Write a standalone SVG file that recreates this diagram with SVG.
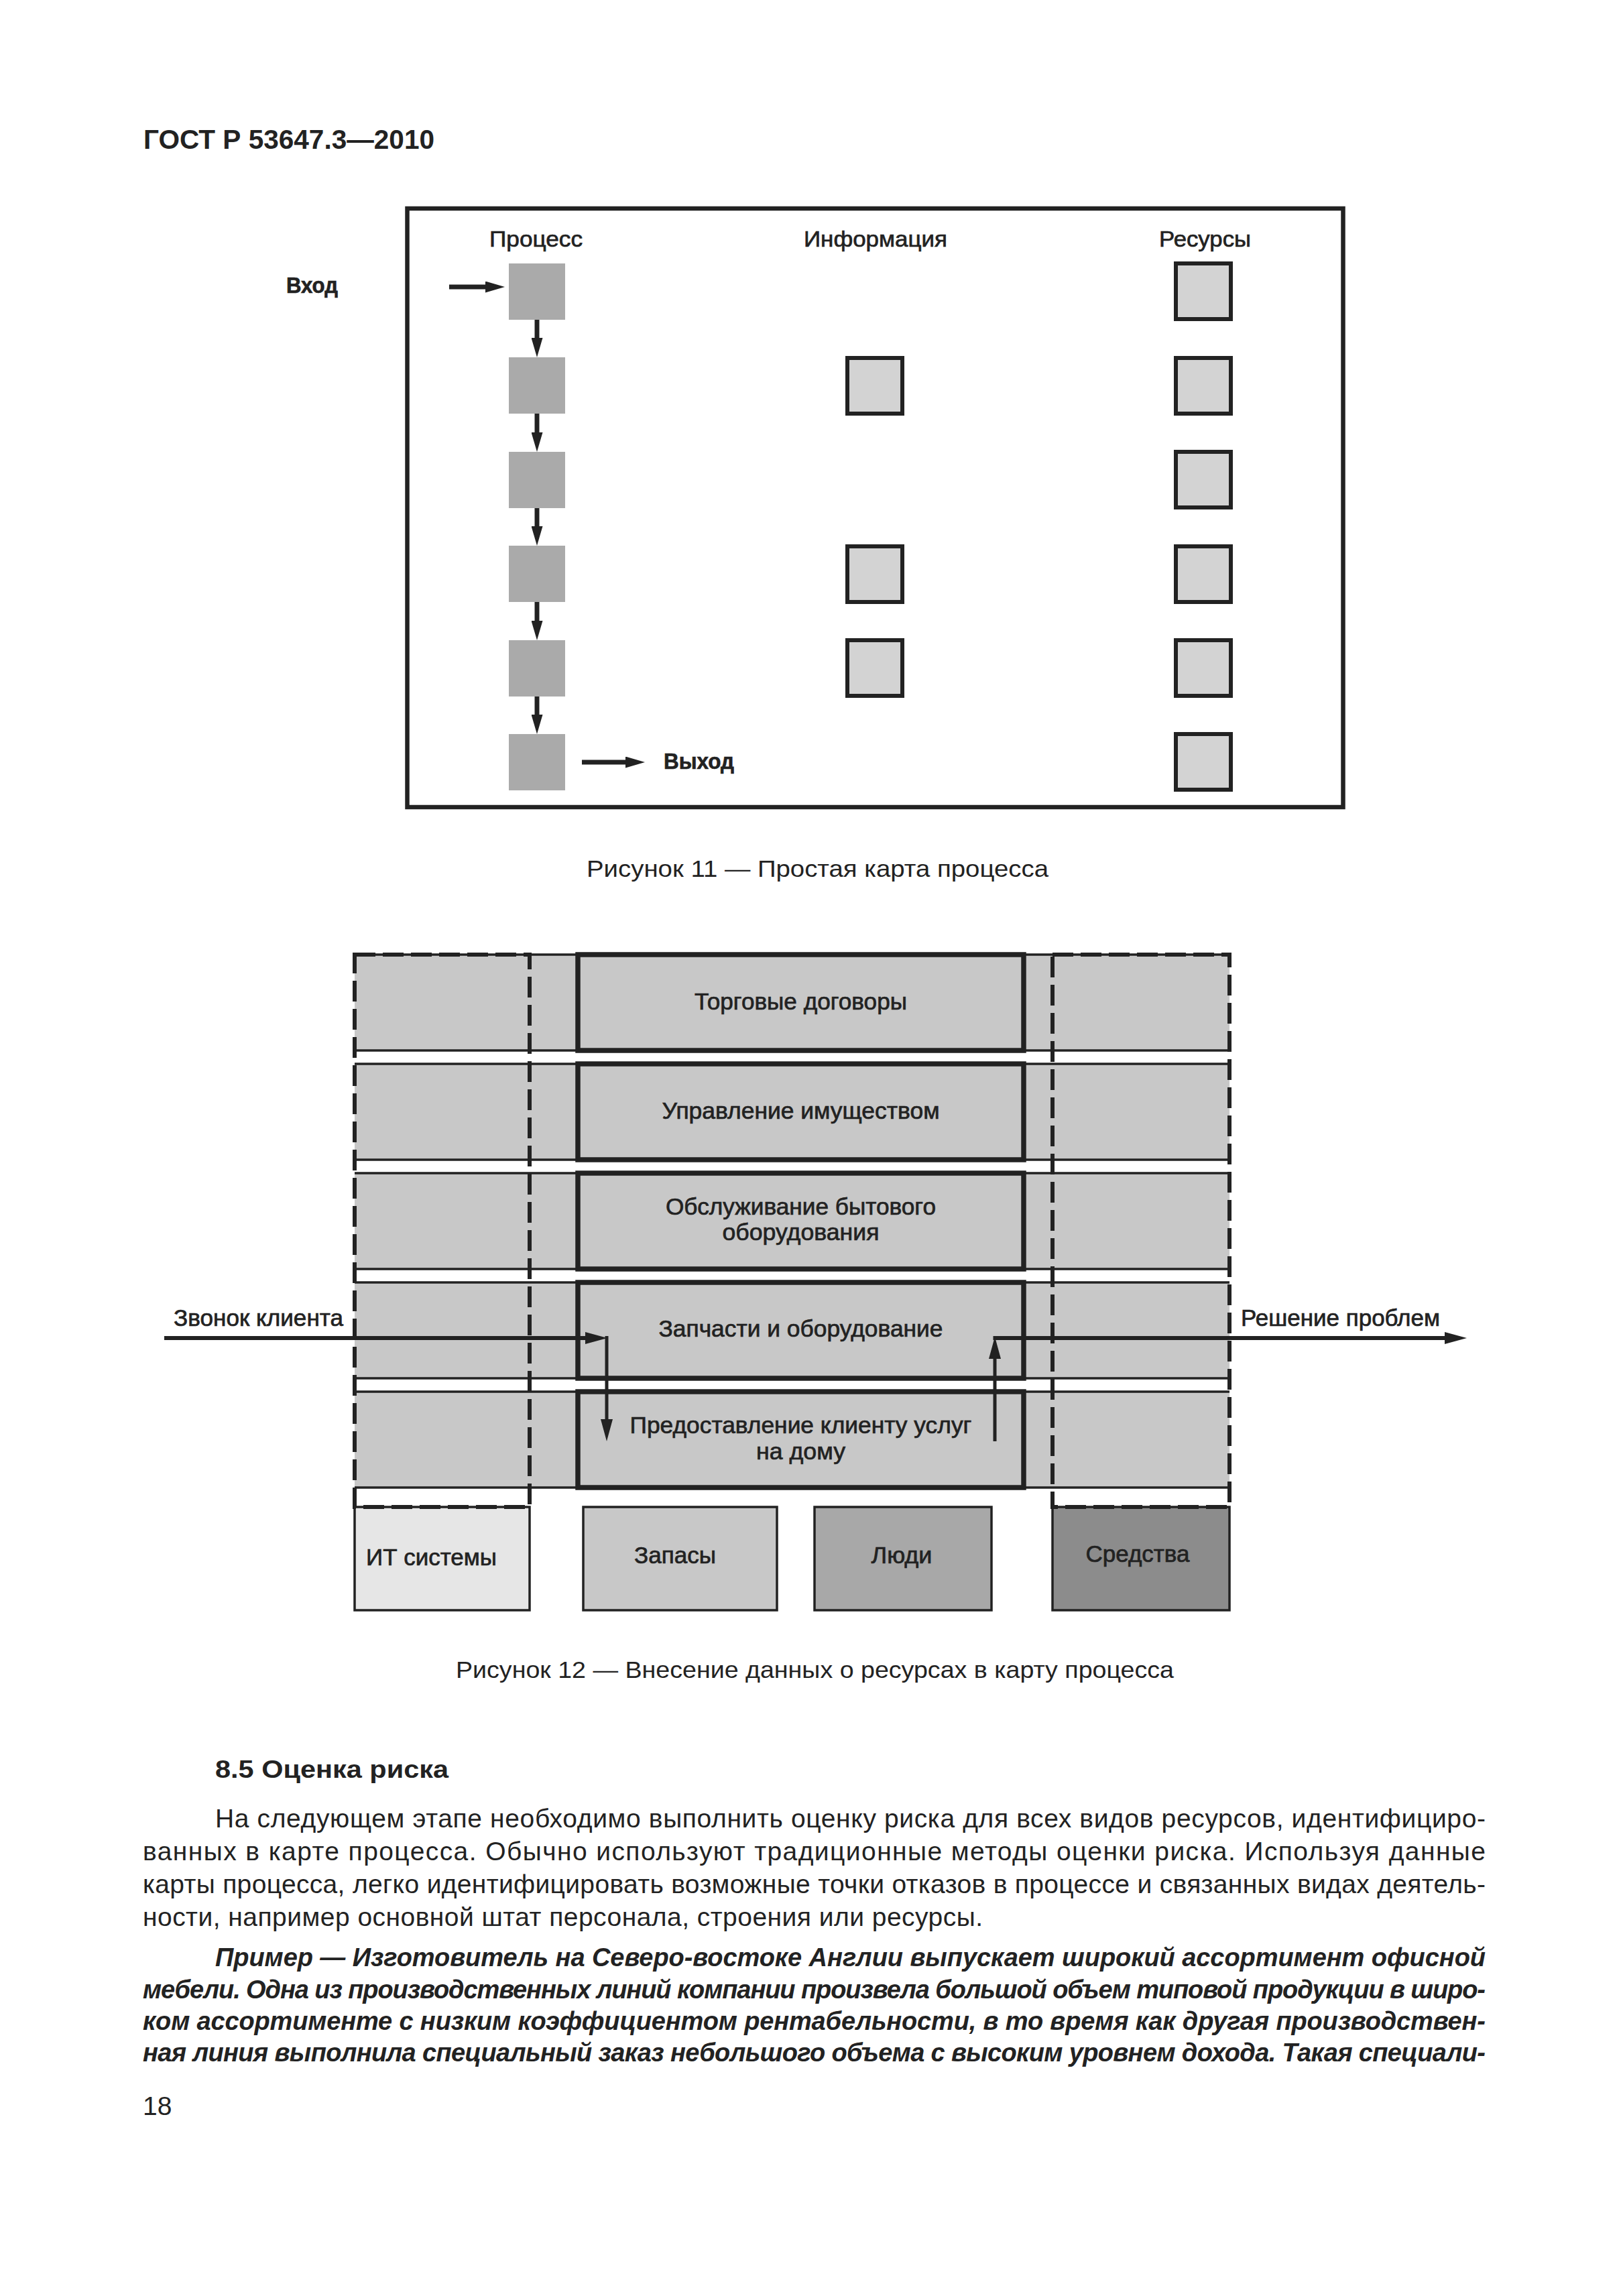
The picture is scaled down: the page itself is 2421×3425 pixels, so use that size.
<svg xmlns="http://www.w3.org/2000/svg" width="2421" height="3425" viewBox="0 0 2421 3425">
<style>
text{font-family:"Liberation Sans",Arial,sans-serif;fill:#222}
.b{font-weight:bold}
.lbl{font-size:35px;stroke:#222;stroke-width:0.7}
.f11{font-size:34px;stroke:#222;stroke-width:0.7}
.cap{font-size:35px}
.p{font-size:39px}
.pi{font-size:38px;font-weight:bold;font-style:italic}
.frame{fill:none;stroke:#222;stroke-width:6.5}
.pbox{fill:#aaaaaa}
.rbox{fill:#d3d3d3;stroke:#222;stroke-width:6}
.row{fill:#c8c8c8}
.thin{stroke:#222;stroke-width:3.5;fill:none}
.res{stroke:#222;stroke-width:3.5}
.thick{fill:none;stroke:#222;stroke-width:7.5}
.dash{fill:none;stroke:#222;stroke-width:6;stroke-dasharray:31 11}
.ln{stroke:#222;fill:none}
</style>
<defs>
<marker id="ah11" markerUnits="userSpaceOnUse" markerWidth="29" markerHeight="17" refX="0" refY="8.5" orient="auto"><path d="M0,0 L29,8.5 L0,17 Z" fill="#222"/></marker>
<marker id="ah12" markerUnits="userSpaceOnUse" markerWidth="33" markerHeight="18" refX="0" refY="9" orient="auto"><path d="M0,0 L33,9 L0,18 Z" fill="#222"/></marker>
</defs>
<rect width="2421" height="3425" fill="#fff"/>
<text class="b" x="214" y="222" font-size="40" textLength="434" lengthAdjust="spacingAndGlyphs">ГОСТ Р 53647.3—2010</text>

<g id="figure11">
<rect id="frame11" class="frame" x="607.5" y="311" width="1396" height="893"/>
<text id="h-process" class="f11" x="730" y="368" textLength="139" lengthAdjust="spacingAndGlyphs">Процесс</text>
<text id="h-info" class="f11" x="1199" y="368" textLength="214" lengthAdjust="spacingAndGlyphs">Информация</text>
<text id="h-res" class="f11" x="1729" y="368" textLength="137" lengthAdjust="spacingAndGlyphs">Ресурсы</text>
<text id="l-in" class="f11 b" x="427" y="437" textLength="77" lengthAdjust="spacingAndGlyphs">Вход</text>
<text id="l-out" class="f11 b" x="990" y="1147" textLength="105" lengthAdjust="spacingAndGlyphs">Выход</text>
<g id="p1"><rect class="pbox" x="759" y="393" width="84" height="84"/></g>
<g id="p2"><rect class="pbox" x="759" y="533" width="84" height="84"/></g>
<g id="p3"><rect class="pbox" x="759" y="674" width="84" height="84"/></g>
<g id="p4"><rect class="pbox" x="759" y="814" width="84" height="84"/></g>
<g id="p5"><rect class="pbox" x="759" y="955" width="84" height="84"/></g>
<g id="p6"><rect class="pbox" x="759" y="1095" width="84" height="84"/></g>
<g id="i2"><rect class="rbox" x="1264" y="534" width="82" height="83"/></g>
<g id="i4"><rect class="rbox" x="1264" y="815" width="82" height="83"/></g>
<g id="i5"><rect class="rbox" x="1264" y="955" width="82" height="83"/></g>
<g id="r1"><rect class="rbox" x="1754" y="393" width="82" height="83"/></g>
<g id="r2"><rect class="rbox" x="1754" y="534" width="82" height="83"/></g>
<g id="r3"><rect class="rbox" x="1754" y="674" width="82" height="83"/></g>
<g id="r4"><rect class="rbox" x="1754" y="815" width="82" height="83"/></g>
<g id="r5"><rect class="rbox" x="1754" y="955" width="82" height="83"/></g>
<g id="r6"><rect class="rbox" x="1754" y="1095" width="82" height="83"/></g>
<g id="conn11" class="ln" stroke-width="7">
<line x1="670" y1="428" x2="724" y2="428" marker-end="url(#ah11)"/>
<line x1="801" y1="477" x2="801" y2="504" marker-end="url(#ah11)"/>
<line x1="801" y1="617" x2="801" y2="645" marker-end="url(#ah11)"/>
<line x1="801" y1="758" x2="801" y2="785" marker-end="url(#ah11)"/>
<line x1="801" y1="898" x2="801" y2="926" marker-end="url(#ah11)"/>
<line x1="801" y1="1039" x2="801" y2="1066" marker-end="url(#ah11)"/>
<line x1="868" y1="1137" x2="933" y2="1137" marker-end="url(#ah11)"/>
</g>
</g>
<text class="cap" x="875" y="1308" textLength="689" lengthAdjust="spacingAndGlyphs">Рисунок 11 — Простая карта процесса</text>

<g id="figure12">
<g id="bottomboxes">
<g id="it"><rect class="res" x="529" y="2248" width="261" height="154" fill="#e6e6e6"/><text class="lbl" x="546" y="2335" textLength="195" lengthAdjust="spacingAndGlyphs">ИТ системы</text></g>
<g id="stock"><rect class="res" x="870" y="2248" width="289" height="154" fill="#c8c8c8"/><text class="lbl" x="1007" y="2332" text-anchor="middle" textLength="122" lengthAdjust="spacingAndGlyphs">Запасы</text></g>
<g id="people"><rect class="res" x="1215" y="2248" width="264" height="154" fill="#a8a8a8"/><text class="lbl" x="1345" y="2332" text-anchor="middle" textLength="91" lengthAdjust="spacingAndGlyphs">Люди</text></g>
<g id="means"><rect class="res" x="1570" y="2248" width="264" height="154" fill="#8c8c8c"/><text class="lbl" x="1697" y="2330" text-anchor="middle" textLength="155" lengthAdjust="spacingAndGlyphs">Средства</text></g>
</g>
<g id="row1"><rect class="row" x="529" y="1424" width="1305" height="143"/><line class="thin" x1="529" y1="1424" x2="1834" y2="1424"/><line class="thin" x1="529" y1="1567" x2="1834" y2="1567"/><rect class="thick" x="862" y="1424" width="665" height="143"/><text class="lbl" x="1194.5" y="1506" text-anchor="middle" textLength="317" lengthAdjust="spacingAndGlyphs">Торговые договоры</text></g>
<g id="row2"><rect class="row" x="529" y="1587" width="1305" height="143"/><line class="thin" x1="529" y1="1587" x2="1834" y2="1587"/><line class="thin" x1="529" y1="1730" x2="1834" y2="1730"/><rect class="thick" x="862" y="1587" width="665" height="143"/><text class="lbl" x="1194.5" y="1669" text-anchor="middle" textLength="414" lengthAdjust="spacingAndGlyphs">Управление имуществом</text></g>
<g id="row3"><rect class="row" x="529" y="1750" width="1305" height="143"/><line class="thin" x1="529" y1="1750" x2="1834" y2="1750"/><line class="thin" x1="529" y1="1893" x2="1834" y2="1893"/><rect class="thick" x="862" y="1750" width="665" height="143"/><text class="lbl" x="1194.5" y="1812" text-anchor="middle" textLength="403" lengthAdjust="spacingAndGlyphs">Обслуживание бытового</text><text class="lbl" x="1194.5" y="1850" text-anchor="middle" textLength="234" lengthAdjust="spacingAndGlyphs">оборудования</text></g>
<g id="row4"><rect class="row" x="529" y="1913" width="1305" height="143"/><line class="thin" x1="529" y1="1913" x2="1834" y2="1913"/><line class="thin" x1="529" y1="2056" x2="1834" y2="2056"/><rect class="thick" x="862" y="1913" width="665" height="143"/><text class="lbl" x="1194.5" y="1994" text-anchor="middle" textLength="424" lengthAdjust="spacingAndGlyphs">Запчасти и оборудование</text></g>
<g id="row5"><rect class="row" x="529" y="2076" width="1305" height="143"/><line class="thin" x1="529" y1="2076" x2="1834" y2="2076"/><line class="thin" x1="529" y1="2219" x2="1834" y2="2219"/><rect class="thick" x="862" y="2076" width="665" height="143"/><text class="lbl" x="1194.5" y="2138" text-anchor="middle" textLength="510" lengthAdjust="spacingAndGlyphs">Предоставление клиенту услуг</text><text class="lbl" x="1194.5" y="2177" text-anchor="middle" textLength="133" lengthAdjust="spacingAndGlyphs">на дому</text></g>
<g id="col-it"><rect class="dash" x="529" y="1424" width="261" height="824"/></g>
<g id="col-means"><rect class="dash" x="1570" y="1424" width="264" height="824"/></g>
<text id="l-call" class="lbl" x="259" y="1978" textLength="253" lengthAdjust="spacingAndGlyphs">Звонок клиента</text>
<text id="l-sol" class="lbl" x="1851" y="1978" textLength="297" lengthAdjust="spacingAndGlyphs">Решение проблем</text>
<g id="conn12" class="ln">
<line x1="245" y1="1996" x2="873" y2="1996" stroke-width="6" marker-end="url(#ah12)"/>
<line x1="905" y1="1993" x2="905" y2="2117" stroke-width="5" marker-end="url(#ah12)"/>
<line x1="1484" y1="2150" x2="1484" y2="2027" stroke-width="5" marker-end="url(#ah12)"/>
<line x1="1481.5" y1="1996" x2="2155" y2="1996" stroke-width="6" marker-end="url(#ah12)"/>
</g>
</g>
<text class="cap" x="680" y="2503" textLength="1071" lengthAdjust="spacingAndGlyphs">Рисунок 12 — Внесение данных о ресурсах в карту процесса</text>

<g id="textblock">
<text class="b" x="321" y="2652" font-size="37" textLength="348" lengthAdjust="spacingAndGlyphs">8.5 Оценка риска</text>
<text class="p" x="321" y="2726" textLength="1895" lengthAdjust="spacing">На следующем этапе необходимо выполнить оценку риска для всех видов ресурсов, идентифициро-</text>
<text class="p" x="213" y="2775" textLength="2003" lengthAdjust="spacing">ванных в карте процесса. Обычно используют традиционные методы оценки риска. Используя данные</text>
<text class="p" x="213" y="2824" textLength="2003" lengthAdjust="spacing">карты процесса, легко идентифицировать возможные точки отказов в процессе и связанных видах деятель-</text>
<text class="p" x="213" y="2873" textLength="1253" lengthAdjust="spacing">ности, например основной штат персонала, строения или ресурсы.</text>
<text class="pi" x="321" y="2933" textLength="1895" lengthAdjust="spacing">Пример — Изготовитель на Северо-востоке Англии выпускает широкий ассортимент офисной</text>
<text class="pi" x="213" y="2981" textLength="2003" lengthAdjust="spacing">мебели. Одна из производственных линий компании произвела большой объем типовой продукции в широ-</text>
<text class="pi" x="213" y="3028" textLength="2003" lengthAdjust="spacing">ком ассортименте с низким коэффициентом рентабельности, в то время как другая производствен-</text>
<text class="pi" x="213" y="3075" textLength="2003" lengthAdjust="spacing">ная линия выполнила специальный заказ небольшого объема с высоким уровнем дохода. Такая специали-</text>
<text class="p" x="213" y="3155">18</text>
</g>
</svg>
